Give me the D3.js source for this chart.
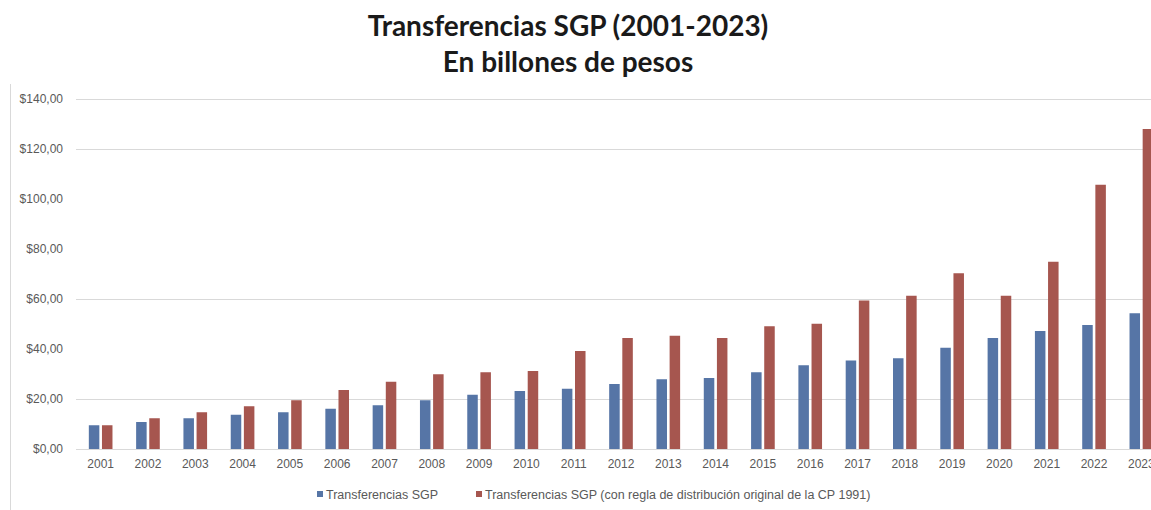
<!DOCTYPE html>
<html>
<head>
<meta charset="utf-8">
<script src="https://cdn.jsdelivr.net/npm/d3@7"></script>
<style>
  html, body { margin: 0; padding: 0; background: #fff; }
  svg { display: block; }
</style>
</head>
<body>
<svg id="chart" width="1151" height="510"></svg>
<script>
const years = ["2001","2002","2003","2004","2005","2006","2007","2008","2009","2010","2011","2012","2013","2014","2015","2016","2017","2018","2019","2020","2021","2022","2023"];
const sgp = [9.5,10.8,12.3,13.7,14.7,16.1,17.5,19.5,21.7,23.2,24.1,26.0,27.9,28.4,30.7,33.5,35.4,36.3,40.5,44.4,47.2,49.6,54.3];
const sgpOriginal = [9.5,12.3,14.7,17.1,19.5,23.6,26.9,29.9,30.7,31.2,39.2,44.4,45.3,44.4,49.1,50.1,59.4,61.3,70.3,61.3,74.9,105.7,128.0];
const yTicks = [0,20,40,60,80,100,120,140];
const yTickLabels = ["$0,00","$20,00","$40,00","$60,00","$80,00","$100,00","$120,00","$140,00"];
const gridValues = [20,60,120,140];
const seriesNames = ["Transferencias SGP", "Transferencias SGP (con regla de distribución original de la CP 1991)"];
const seriesColors = ["#5675A6", "#A6564F"];
const titleLines = ["Transferencias SGP (2001-2023)", "En billones de pesos"];

const svg = d3.select("#chart");
const font = "'Liberation Sans', Arial, sans-serif";

// frame line
svg.append("line").attr("x1", 10.5).attr("x2", 10.5).attr("y1", 84).attr("y2", 510)
  .attr("stroke", "#d9d9d9").attr("stroke-width", 1);

// title
svg.append("g").selectAll("text").data(titleLines).join("text")
  .attr("x", 568).attr("y", (d, i) => 36 + i * 36)
  .attr("text-anchor", "middle")
  .attr("font-family", "Lato, 'Open Sans', sans-serif")
  .attr("font-weight", "bold")
  .attr("font-size", 28)
  .attr("fill", "#1a1a1a")
  .text(d => d);

const y = d3.scaleLinear().domain([0, 140]).range([449, 99]);
const x = d3.scaleBand().domain(years).range([77, 1165]).paddingInner(0.5).paddingOuter(0.25);
const xs = d3.scaleBand().domain([0, 1]).range([0, x.bandwidth()]).paddingInner(0.2);

// gridlines
svg.append("g").selectAll("line").data(gridValues).join("line")
  .attr("x1", 76).attr("x2", 1151)
  .attr("y1", d => Math.round(y(d)) + 0.5).attr("y2", d => Math.round(y(d)) + 0.5)
  .attr("stroke", "#d9d9d9").attr("stroke-width", 1);

// y axis labels
const yAxis = d3.axisLeft(y).tickValues(yTicks).tickSize(0).tickPadding(0)
  .tickFormat(d => yTickLabels[yTicks.indexOf(d)]);
const yg = svg.append("g").attr("transform", "translate(63,0)").call(yAxis);
yg.select(".domain").remove();
yg.selectAll("text").attr("font-family", font).attr("font-size", 12).attr("fill", "#595959");

// bars
const data = years.map((yr, i) => ({ yr, vals: [sgp[i], sgpOriginal[i]] }));
const groups = svg.append("g").selectAll("g").data(data).join("g")
  .attr("transform", d => `translate(${x(d.yr)},0)`);
groups.selectAll("rect").data(d => d.vals.map((v, k) => ({ v, k }))).join("rect")
  .attr("x", d => xs(d.k))
  .attr("width", xs.bandwidth())
  .attr("y", d => y(d.v))
  .attr("height", d => y(0) - y(d.v))
  .attr("fill", d => seriesColors[d.k]);

// x axis baseline and labels
const xAxis = d3.axisBottom(x).tickSize(0).tickPadding(10);
const xg = svg.append("g").attr("transform", `translate(0,${Math.round(y(0)) + 0.5})`).call(xAxis);
xg.select(".domain").attr("stroke", "#d9d9d9").attr("d", "M76,0H1151");
xg.selectAll("text").attr("font-family", font).attr("font-size", 12).attr("fill", "#595959");

// legend
const legendX = [317, 476];
const lg = svg.append("g").selectAll("g").data(seriesNames).join("g")
  .attr("transform", (d, i) => `translate(${legendX[i]},491)`);
lg.append("rect").attr("x", 0).attr("y", 0).attr("width", 6).attr("height", 6)
  .attr("fill", (d, i) => seriesColors[i]);
lg.append("text").attr("x", 9).attr("y", 7.5)
  .attr("font-family", font).attr("font-size", 12.5).attr("fill", "#595959")
  .text(d => d);
</script>
</body>
</html>
